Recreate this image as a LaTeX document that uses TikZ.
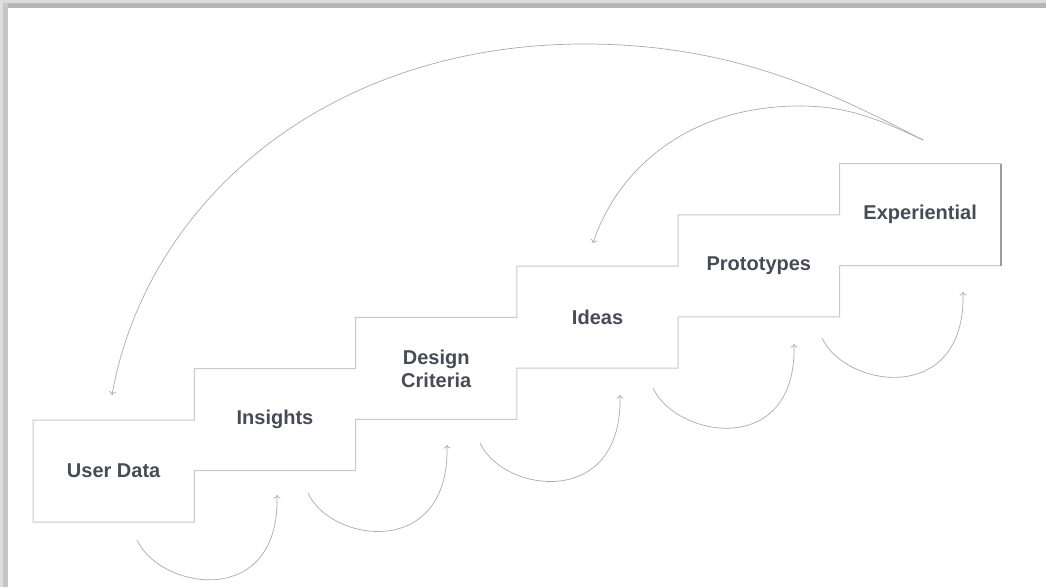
\documentclass[tikz,border=0pt]{standalone}
\usepackage{fontspec}
\setmainfont{Liberation Sans}
\usetikzlibrary{arrows.meta,calc}
\definecolor{txt}{HTML}{464B55}
\definecolor{edge}{HTML}{C9C9C9}
\definecolor{edgedark}{HTML}{9C9C9C}
\definecolor{arr}{HTML}{ABABAB}
\begin{document}
\begin{tikzpicture}[x=1pt,y=-1pt,
  stepbox/.style={minimum width=161.3pt,minimum height=102pt,inner sep=0pt,outer sep=0pt,
    font=\fontsize{20}{23}\selectfont\bfseries,text=txt,align=center},
  boxline/.style={draw=edge,line width=1pt},
  flow/.style={draw=arr,line width=0.7pt,-{To[length=3.5pt,width=7pt]}},
]
\fill[white] (0,0) rectangle (1046,587);
\useasboundingbox (0,0) rectangle (1046,587);
% frame shadow (top and left)
\fill[gray!28] (0,0) rectangle (1046,3);
\fill[gray!58] (0,3) rectangle (1046,8);
\fill[gray!26] (0,0) rectangle (3,587);
\fill[gray!45] (3,3) rectangle (8,587);
\fill[white] (8,8) rectangle (1046,587);

% steps
\node[stepbox] (ud)  at (113.65,471)   {User Data};
\node[stepbox] (ins) at (274.95,419.7) {Insights};
\node[stepbox] (dc)  at (436.25,368.4) {Design\\Criteria};
\node[stepbox] (ide) at (597.55,317.1) {Ideas};
\node[stepbox] (pro) at (758.85,265.8) {Prototypes};
\node[stepbox] (exp) at (920.15,214.5) {Experiential};

\draw[boxline] (ud.south west) -- (ud.north west) -- (ud.north east) -- (ins.north west)
  -- (ins.north east) -- (dc.north west) -- (dc.north east) -- (ide.north west)
  -- (ide.north east) -- (pro.north west) -- (pro.north east) -- (exp.north west)
  -- (exp.north east) -- (exp.south east) -- (exp.south west) -- (pro.south east)
  -- (pro.south west) -- (ide.south east) -- (ide.south west) -- (dc.south east)
  -- (dc.south west) -- (ins.south east) -- (ins.south west) -- (ud.south east) -- cycle;
\draw[draw=edgedark,line width=1.4pt] (exp.north east) -- (exp.south east);

% feedback arcs from Experiential
\coordinate (top)   at (923,140);
\coordinate (peak)  at (585,44);
\coordinate (udin)  at (112,395);
\coordinate (peak2) at (800,106);
\coordinate (idein) at (593,243);
\draw[flow] (top) .. controls (834,94) and (735,44) .. (peak)
  .. controls (324,44) and (146,204) .. (udin);
\draw[flow] (top) .. controls (882,121) and (850,106) .. (peak2)
  .. controls (686,106) and (617,171) .. (idein);

% forward loops under the steps
\coordinate (l1s) at (137,540); \coordinate (l1e) at (277,495);
\coordinate (l2s) at (308,493); \coordinate (l2e) at (447,445);
\coordinate (l3s) at (480,443); \coordinate (l3e) at (620,395);
\coordinate (l4s) at (653,388); \coordinate (l4e) at (794,344);
\coordinate (l5s) at (822,338); \coordinate (l5e) at (963,292);
\draw[flow] (l1s) .. controls +(23,50) and +(3,115) .. (l1e);
\draw[flow] (l2s) .. controls +(23,50) and +(3,115) .. (l2e);
\draw[flow] (l3s) .. controls +(23,50) and +(3,115) .. (l3e);
\draw[flow] (l4s) .. controls +(23,50) and +(3,115) .. (l4e);
\draw[flow] (l5s) .. controls +(23,50) and +(3,115) .. (l5e);
\end{tikzpicture}
\end{document}
